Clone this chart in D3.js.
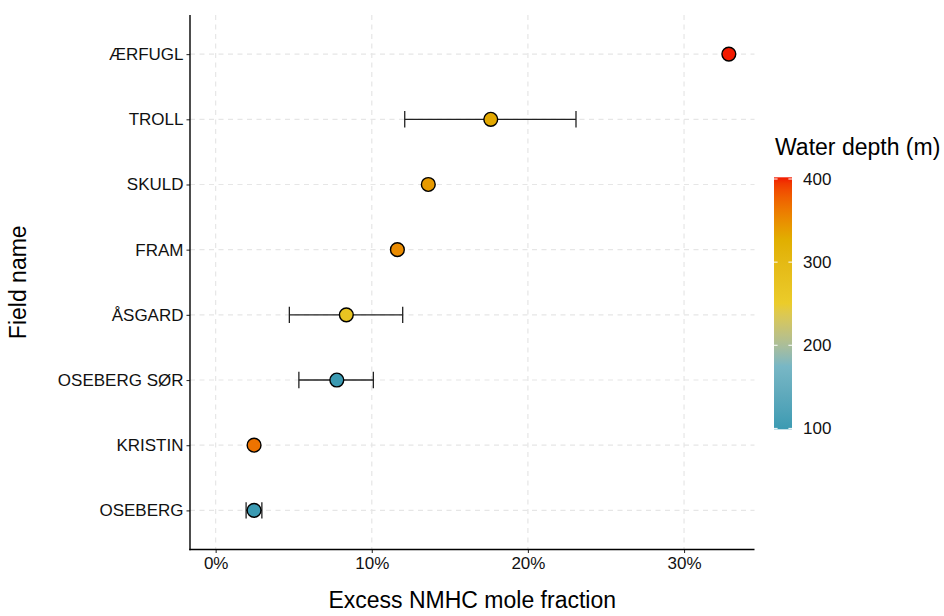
<!DOCTYPE html>
<html>
<head>
<meta charset="utf-8">
<script src="https://cdn.jsdelivr.net/npm/d3@7"></script>
<style>
  html, body { margin: 0; padding: 0; background: #ffffff; }
  svg { display: block; font-family: "Liberation Sans", Arial, Helvetica, sans-serif; }
</style>
</head>
<body>
<svg id="chart" width="944" height="616"></svg>
<script>
// ---- Data ----
const fields   = ["OSEBERG", "KRISTIN", "OSEBERG SØR", "ÅSGARD", "FRAM", "SKULD", "TROLL", "ÆRFUGL"];
const excess   = [2.46, 2.46, 7.76, 8.37, 11.64, 13.62, 17.62, 32.87];   // % mole fraction
const errLower = [1.95, null, 5.33, 4.72, null, null, 12.11, null];
const errUpper = [2.96, null, 10.10, 11.98, null, null, 23.08, null];
const depth    = [100, 365, 100, 270, 350, 340, 330, 400];               // water depth (m)
const xTicks   = [0, 10, 20, 30];
const depthTicks = [100, 200, 300, 400];
const paletteZissou = ["#3B9AB2", "#78B7C5", "#EBCC2A", "#E1AF00", "#F21A00"];

// ---- Layout ----
const svg = d3.select("#chart");
const panel = { left: 190, right: 754.5, top: 15, bottom: 549.5 };
const tickFont = "17px";
const titleFont = "23px";

// x: limits [0, max] expanded 5%
const xMax = d3.max(excess.map((v, i) => errUpper[i] != null ? Math.max(v, errUpper[i]) : v));
const xPad = (xMax - 0) * 0.05;
const x = d3.scaleLinear().domain([0 - xPad, xMax + xPad]).range([panel.left, panel.right]);

// y: discrete with 0.6 expansion, first category at bottom
const y = d3.scalePoint().domain(fields).range([panel.bottom, panel.top]).padding(0.6);

// colour: Zissou1 continuous over depth range
const dExt = d3.extent(depth);
const colorInterp = d3.piecewise(d3.interpolateLab, paletteZissou);
const color = v => colorInterp((v - dExt[0]) / (dExt[1] - dExt[0]));

const data = fields.map((f, i) => ({ field: f, v: excess[i], lo: errLower[i], hi: errUpper[i], d: depth[i] }));

// ---- Grid ----
const grid = svg.append("g");
grid.selectAll("line.gx").data(xTicks).join("line")
  .attr("x1", d => x(d)).attr("x2", d => x(d))
  .attr("y1", panel.top).attr("y2", panel.bottom)
  .attr("stroke", "#e6e6e6").attr("stroke-width", 1.2).attr("stroke-dasharray", "5,4.5");
grid.selectAll("line.gy").data(fields).join("line")
  .attr("x1", panel.left).attr("x2", panel.right)
  .attr("y1", d => y(d)).attr("y2", d => y(d))
  .attr("stroke", "#e6e6e6").attr("stroke-width", 1.2).attr("stroke-dasharray", "5,4.5");

// ---- Error bars ----
const eb = data.filter(d => d.lo != null);
const capH = 8.2;
const ebg = svg.append("g").attr("stroke", "#222").attr("stroke-width", 1.3);
ebg.selectAll("line.h").data(eb).join("line")
  .attr("x1", d => x(d.lo)).attr("x2", d => x(d.hi))
  .attr("y1", d => y(d.field)).attr("y2", d => y(d.field));
ebg.selectAll("line.l").data(eb).join("line")
  .attr("x1", d => x(d.lo)).attr("x2", d => x(d.lo))
  .attr("y1", d => y(d.field) - capH).attr("y2", d => y(d.field) + capH);
ebg.selectAll("line.r").data(eb).join("line")
  .attr("x1", d => x(d.hi)).attr("x2", d => x(d.hi))
  .attr("y1", d => y(d.field) - capH).attr("y2", d => y(d.field) + capH);

// ---- Points ----
svg.append("g").selectAll("circle").data(data).join("circle")
  .attr("cx", d => x(d.v)).attr("cy", d => y(d.field))
  .attr("r", 6.9)
  .attr("fill", d => color(d.d))
  .attr("stroke", "#000").attr("stroke-width", 1.4);

// ---- Axes ----
const xAxis = d3.axisBottom(x).tickValues(xTicks).tickFormat(d => d + "%").tickSize(3.5).tickPadding(4);
const gx = svg.append("g").attr("transform", `translate(0,${panel.bottom})`).call(xAxis);
gx.select(".domain").remove();
gx.selectAll(".tick line").attr("stroke", "#333").attr("stroke-width", 1.1);
gx.selectAll(".tick text").attr("fill", "#111").attr("font-size", tickFont)
  .attr("font-family", "'Liberation Sans', Arial, sans-serif");

const yAxis = d3.axisLeft(y).tickSize(3.5).tickPadding(3);
const gy = svg.append("g").attr("transform", `translate(${panel.left},0)`).call(yAxis);
gy.select(".domain").remove();
gy.selectAll(".tick line").attr("stroke", "#333").attr("stroke-width", 1.1);
gy.selectAll(".tick text").attr("fill", "#111").attr("font-size", tickFont)
  .attr("font-family", "'Liberation Sans', Arial, sans-serif");

// axis lines
svg.append("line").attr("x1", panel.left).attr("x2", panel.left)
  .attr("y1", panel.top).attr("y2", panel.bottom + 0.7)
  .attr("stroke", "#000").attr("stroke-width", 1.4);
svg.append("line").attr("x1", panel.left - 0.7).attr("x2", panel.right)
  .attr("y1", panel.bottom).attr("y2", panel.bottom)
  .attr("stroke", "#000").attr("stroke-width", 1.4);

// axis titles
svg.append("text").attr("x", (panel.left + panel.right) / 2).attr("y", 608)
  .attr("text-anchor", "middle").attr("font-size", titleFont).attr("fill", "#000")
  .text("Excess NMHC mole fraction");
svg.append("text").attr("transform", `translate(26,${(panel.top + panel.bottom) / 2}) rotate(-90)`)
  .attr("text-anchor", "middle").attr("font-size", titleFont).attr("fill", "#000")
  .text("Field name");

// ---- Legend (colour bar) ----
const leg = { x: 774, w: 18, top: 177.3, bottom: 429.3 };
const ly = d3.scaleLinear().domain([100, 400]).range([428.4, 179]);
const defs = svg.append("defs");
const grad = defs.append("linearGradient").attr("id", "zgrad")
  .attr("x1", 0).attr("y1", 1).attr("x2", 0).attr("y2", 0);
const nStops = 40;
d3.range(nStops + 1).forEach(i => {
  const t = i / nStops;
  grad.append("stop").attr("offset", t).attr("stop-color", colorInterp(t));
});
svg.append("rect").attr("x", leg.x).attr("y", leg.top)
  .attr("width", leg.w).attr("height", leg.bottom - leg.top)
  .attr("fill", "url(#zgrad)");
const lt = svg.append("g");
lt.selectAll("line.a").data(depthTicks).join("line")
  .attr("x1", leg.x).attr("x2", leg.x + 3.6)
  .attr("y1", d => ly(d)).attr("y2", d => ly(d))
  .attr("stroke", "#ffffff").attr("stroke-width", 1);
lt.selectAll("line.b").data(depthTicks).join("line")
  .attr("x1", leg.x + leg.w - 3.6).attr("x2", leg.x + leg.w)
  .attr("y1", d => ly(d)).attr("y2", d => ly(d))
  .attr("stroke", "#ffffff").attr("stroke-width", 1);
lt.selectAll("text").data(depthTicks).join("text")
  .attr("x", 803).attr("y", d => ly(d)).attr("dy", "0.35em")
  .attr("font-size", tickFont).attr("fill", "#111")
  .text(d => d);
svg.append("text").attr("x", 775).attr("y", 155)
  .attr("font-size", titleFont).attr("fill", "#000")
  .text("Water depth (m)");
</script>
</body>
</html>
